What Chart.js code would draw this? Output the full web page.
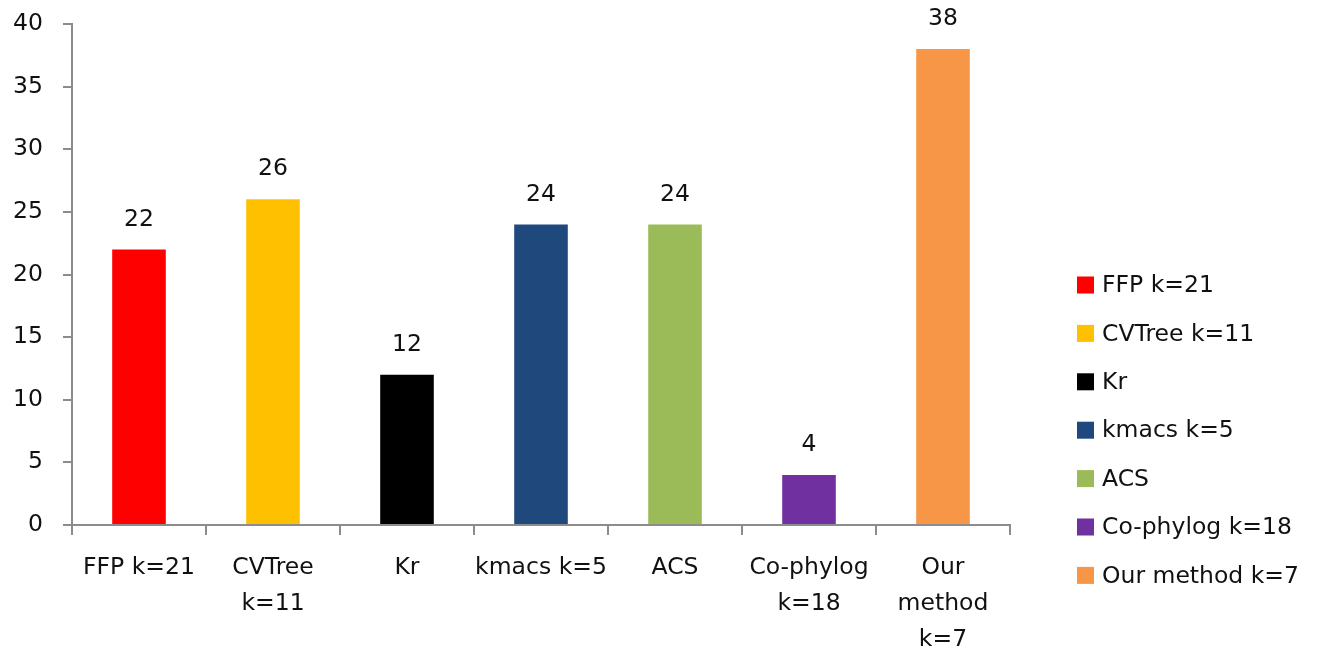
<!DOCTYPE html>
<html>
<head>
<meta charset="utf-8">
<script src="https://cdn.jsdelivr.net/npm/chart.js@4/dist/chart.umd.min.js"></script>
<style>
  html, body { margin: 0; padding: 0; background: #fff; }
  #wrap { width: 1327px; height: 655px; position: relative; }
</style>
</head>
<body>
<div id="wrap"><canvas id="c" width="1327" height="655"></canvas></div>
<script>
// Method names (axis labels, wrapped as on the axis) and legend names
const categories = [
  ['FFP k=21'],
  ['CVTree', 'k=11'],
  ['Kr'],
  ['kmacs k=5'],
  ['ACS'],
  ['Co-phylog', 'k=18'],
  ['Our', 'method', 'k=7']
];
const legendNames = ['FFP k=21', 'CVTree k=11', 'Kr', 'kmacs k=5', 'ACS', 'Co-phylog k=18', 'Our method k=7'];
const values = [22, 26, 12, 24, 24, 4, 38];
const barColors = ['#FF0000', '#FFC000', '#000000', '#1F497D', '#9BBB59', '#7030A0', '#F79646'];
const yTicks = [0, 5, 10, 15, 20, 25, 30, 35, 40];

const FONT = '"DejaVu Sans", "Open Sans", sans-serif';
const FSIZE = 23.5;
const TEXT = '#111111';
const AXIS = '#8c8c8c';

// Value printed above each bar
const valueLabels = {
  id: 'valueLabels',
  afterDatasetsDraw(chart) {
    const ctx = chart.ctx;
    const meta = chart.getDatasetMeta(0);
    ctx.save();
    ctx.font = FSIZE + 'px ' + FONT;
    ctx.fillStyle = TEXT;
    ctx.textAlign = 'center';
    ctx.textBaseline = 'middle';
    meta.data.forEach((bar, i) => {
      ctx.fillText(String(chart.data.datasets[0].data[i]), bar.x, bar.y - 30);
    });
    ctx.restore();
  }
};

// Legend column to the right of the plot
const sideLegend = {
  id: 'sideLegend',
  afterDraw(chart) {
    const ctx = chart.ctx;
    const ds = chart.data.datasets[0];
    const x0 = 1077, y0 = 285, step = 48.4, box = 17;
    ctx.save();
    ctx.font = FSIZE + 'px ' + FONT;
    ctx.textAlign = 'left';
    ctx.textBaseline = 'middle';
    legendNames.forEach((name, i) => {
      const y = y0 + i * step;
      ctx.fillStyle = ds.backgroundColor[i];
      ctx.fillRect(x0, y - box / 2, box, box);
      ctx.fillStyle = TEXT;
      ctx.fillText(name, x0 + 25, y + 1);
    });
    ctx.restore();
  }
};

new Chart(document.getElementById('c'), {
  type: 'bar',
  data: {
    labels: categories,
    datasets: [{
      data: values,
      backgroundColor: barColors,
      borderWidth: 0,
      categoryPercentage: 1.0,
      barPercentage: 0.4
    }]
  },
  options: {
    responsive: false,
    animation: false,
    layout: { padding: { top: 24, left: 0, right: 317, bottom: 0 } },
    plugins: {
      legend: { display: false },
      tooltip: { enabled: false }
    },
    scales: {
      x: {
        afterFit(scale) { scale.height = 130; },
        grid: {
          offset: true,
          drawOnChartArea: false,
          drawTicks: true,
          tickLength: 10,
          color: AXIS,
          lineWidth: 2
        },
        border: { display: true, color: AXIS, width: 2 },
        ticks: {
          color: TEXT,
          font: { family: FONT, size: FSIZE, lineHeight: 36 / FSIZE },
          padding: 15,
          maxRotation: 0,
          autoSkip: false
        }
      },
      y: {
        min: 0,
        max: 40,
        afterBuildTicks(scale) {
          scale.ticks = yTicks.map(v => ({ value: v }));
        },
        afterFit(scale) {
          scale.width = 72;
          scale.paddingTop = 0;
        },
        grid: {
          drawOnChartArea: false,
          drawTicks: true,
          tickLength: 9,
          color: AXIS,
          lineWidth: 2
        },
        border: { display: true, color: AXIS, width: 2 },
        ticks: {
          color: TEXT,
          font: { family: FONT, size: FSIZE },
          padding: 20
        }
      }
    }
  },
  plugins: [valueLabels, sideLegend]
});
</script>
</body>
</html>
